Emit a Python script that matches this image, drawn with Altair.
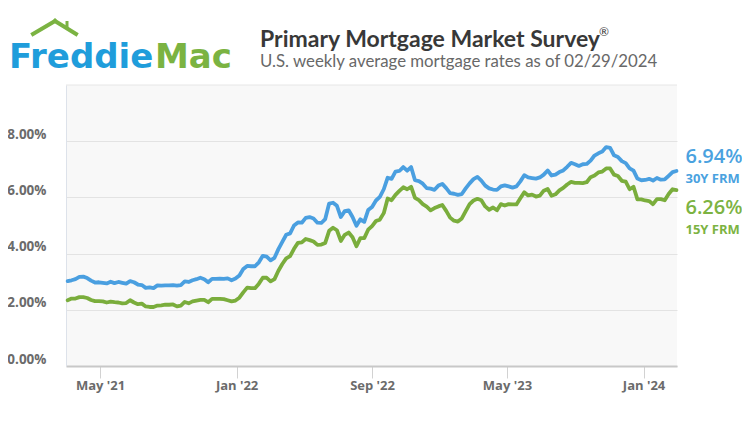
import altair as alt
import pandas as pd

# ---- data (Freddie Mac PMMS weekly averages, %) ----
week_start = "2021-03-04"
week_end = "2024-02-29"

rate30_2021 = [3.02, 3.05, 3.09, 3.17, 3.18, 3.13, 3.04, 2.97, 2.98, 2.96, 2.94, 3.00, 2.95,
               2.99, 2.96, 2.93, 3.02, 2.98, 2.90, 2.88, 2.78, 2.80, 2.77, 2.87, 2.86, 2.87,
               2.87, 2.88, 2.86, 2.88, 3.01, 2.99, 3.05, 3.09, 3.14, 3.09, 2.98, 3.10, 3.10,
               3.11, 3.10, 3.12, 3.05, 3.11]
rate30_2022 = [3.22, 3.45, 3.56, 3.55, 3.55, 3.69, 3.92, 3.89, 3.76, 3.85, 4.16, 4.42, 4.67,
               4.72, 5.00, 5.11, 5.10, 5.27, 5.30, 5.25, 5.10, 5.09, 5.23, 5.78, 5.81, 5.70,
               5.30, 5.51, 5.54, 5.30, 4.99, 5.22, 5.13, 5.55, 5.66, 5.89, 6.02, 6.29, 6.70,
               6.66, 6.92, 6.94, 7.08, 6.95, 7.08, 6.61, 6.58, 6.49, 6.33, 6.31, 6.27, 6.42]
rate30_2023 = [6.48, 6.33, 6.15, 6.13, 6.09, 6.12, 6.32, 6.50, 6.65, 6.73, 6.60, 6.42, 6.32,
               6.28, 6.27, 6.39, 6.43, 6.39, 6.35, 6.39, 6.57, 6.79, 6.71, 6.69, 6.67, 6.71,
               6.81, 6.96, 6.78, 6.81, 6.90, 6.96, 7.09, 7.23, 7.18, 7.12, 7.18, 7.19, 7.31,
               7.49, 7.57, 7.63, 7.79, 7.76, 7.50, 7.44, 7.29, 7.22, 7.03, 6.95, 6.67, 6.61]
rate30_2024 = [6.62, 6.66, 6.60, 6.69, 6.63, 6.64, 6.77, 6.90, 6.94]

rate15_2021 = [2.34, 2.40, 2.40, 2.45, 2.45, 2.42, 2.35, 2.31, 2.31, 2.30, 2.26, 2.29, 2.27,
               2.26, 2.23, 2.24, 2.34, 2.26, 2.20, 2.22, 2.12, 2.10, 2.10, 2.15, 2.16, 2.18,
               2.18, 2.19, 2.12, 2.15, 2.28, 2.23, 2.30, 2.33, 2.35, 2.35, 2.27, 2.39, 2.39,
               2.39, 2.38, 2.34, 2.30, 2.33]
rate15_2022 = [2.43, 2.62, 2.79, 2.77, 2.77, 2.93, 3.14, 3.14, 3.01, 3.09, 3.39, 3.63, 3.83,
               3.91, 4.17, 4.38, 4.40, 4.52, 4.48, 4.43, 4.31, 4.32, 4.38, 4.81, 4.92, 4.83,
               4.45, 4.67, 4.75, 4.58, 4.26, 4.55, 4.55, 4.85, 4.98, 5.16, 5.21, 5.44, 5.96,
               5.90, 6.09, 6.23, 6.36, 6.29, 6.38, 5.98, 5.90, 5.76, 5.67, 5.54, 5.62, 5.68]
rate15_2023 = [5.73, 5.52, 5.28, 5.17, 5.14, 5.25, 5.51, 5.76, 5.89, 5.95, 5.90, 5.68, 5.56,
               5.64, 5.54, 5.76, 5.71, 5.76, 5.75, 5.75, 5.97, 6.18, 6.07, 6.10, 6.03, 6.06,
               6.24, 6.30, 6.06, 6.11, 6.25, 6.34, 6.46, 6.55, 6.52, 6.52, 6.51, 6.54, 6.72,
               6.78, 6.89, 6.92, 7.03, 7.03, 6.81, 6.76, 6.59, 6.56, 6.29, 6.38, 5.93, 5.93]
rate15_2024 = [5.89, 5.87, 5.76, 5.94, 5.94, 5.90, 6.12, 6.29, 6.26]

series_names = ["30Y FRM", "15Y FRM"]
series_colors = ["#4a9fe0", "#7aad3c"]
text_colors = ["#4aa2df", "#7cb342"]
y_ticks = [0, 2, 4, 6, 8]
x_ticks = [(2021, 5), (2022, 1), (2022, 9), (2023, 5), (2024, 1)]

title_text = "Primary Mortgage Market Survey"
subtitle_text = "U.S. weekly average mortgage rates as of 02/29/2024"

# ---- build table ----
dates = pd.date_range(week_start, week_end, freq="7D")
r30 = rate30_2021 + rate30_2022 + rate30_2023 + rate30_2024
r15 = rate15_2021 + rate15_2022 + rate15_2023 + rate15_2024
df = pd.concat([
    pd.DataFrame({"date": dates, "rate": r30, "series": series_names[0]}),
    pd.DataFrame({"date": dates, "rate": r15, "series": series_names[1]}),
])
last = df.groupby("series", as_index=False).last()

W, H = 611, 281
x_scale = alt.Scale(domain=[alt.DateTime(year=2021, month=3, date=1),
                            alt.DateTime(year=2024, month=3, date=1)])
y_scale = alt.Scale(domain=[0, 10], nice=False)
AXIS_FONT = "Open Sans"
LABEL_GRAY = "#6b6b6b"

lines = alt.Chart(df).mark_line(strokeWidth=3.8, strokeJoin="round", strokeCap="round").encode(
    x=alt.X("date:T", scale=x_scale, title=None,
            axis=alt.Axis(values=[alt.DateTime(year=y, month=m, date=1) for y, m in x_ticks],
                          format="%b '%y", grid=False, tickSize=12, tickColor="#d2d2d2",
                          domainColor="#c8c8c8", domainWidth=2, labelFont=AXIS_FONT,
                          labelFontWeight="bold", labelFontSize=13, labelColor=LABEL_GRAY,
                          labelPadding=1, labelFlush=False)),
    y=alt.Y("rate:Q", scale=y_scale, title=None,
            axis=alt.Axis(values=y_ticks, labelExpr="format(datum.value, '.2f') + '%'",
                          grid=True, gridColor="#e3e3e3", ticks=False, domainColor="#dde2ea",
                          labelFont=AXIS_FONT, labelFontWeight="bold", labelFontSize=13.5,
                          labelColor=LABEL_GRAY, labelPadding=20, labelBaseline="alphabetic",
                          labelOffset=-3)),
    color=alt.Color("series:N", scale=alt.Scale(domain=series_names, range=series_colors),
                    legend=None),
)

def end_label(idx, big_dy, small_dy):
    base = alt.Chart(last).transform_filter(alt.datum.series == series_names[idx]).transform_calculate(
        label="format(datum.rate, '.2f') + '%'")
    big = base.mark_text(align="left", baseline="middle", dx=9, dy=big_dy, font=AXIS_FONT,
                         fontSize=20, fontWeight=600, color=text_colors[idx]).encode(
        x="date:T", y="rate:Q", text="label:N")
    small = base.mark_text(align="left", baseline="middle", dx=9, dy=small_dy, font=AXIS_FONT,
                           fontSize=13, fontWeight="bold", color=text_colors[idx]).encode(
        x="date:T", y="rate:Q", text="series:N")
    return big + small

one = pd.DataFrame({"k": [0]})

top_border = alt.Chart(one).mark_rule(color="#e6e6e6", strokeWidth=1).encode(
    x=alt.value(0), x2=alt.value(W), y=alt.value(0))

title = alt.Chart(one).mark_text(align="left", baseline="alphabetic", font="Lato", fontSize=23,
                                 fontWeight="bold", color="#383838").encode(
    x=alt.value(194), y=alt.value(-38), text=alt.value(title_text))
reg = alt.Chart(one).mark_text(align="left", baseline="alphabetic", font="Lato", fontSize=12,
                               color="#383838").encode(
    x=alt.value(533), y=alt.value(-49), text=alt.value("®"))
subtitle = alt.Chart(one).mark_text(align="left", baseline="alphabetic", font="Lato", fontSize=16.8,
                                    color="#686868").encode(
    x=alt.value(194), y=alt.value(-18), text=alt.value(subtitle_text))

logo_blue = alt.Chart(one).mark_text(align="left", baseline="alphabetic", font="DejaVu Sans",
                                     fontSize=34, fontWeight="bold", color="#1f9ddb").encode(
    x=alt.value(-57), y=alt.value(-17), text=alt.value("Freddie"))
logo_green = alt.Chart(one).mark_text(align="left", baseline="alphabetic", font="DejaVu Sans",
                                      fontSize=34, fontWeight="bold", color="#7bb342").encode(
    x=alt.value(89), y=alt.value(-17), text=alt.value("Mac"))
roof_l = alt.Chart(one).mark_rule(color="#7bb342", strokeWidth=4, strokeCap="square").encode(
    x=alt.value(-33), y=alt.value(-51), x2=alt.value(-11), y2=alt.value(-64))
roof_r = alt.Chart(one).mark_rule(color="#7bb342", strokeWidth=4, strokeCap="square").encode(
    x=alt.value(-11), y=alt.value(-64), x2=alt.value(10), y2=alt.value(-51))
chimney = alt.Chart(one).mark_rule(color="#7bb342", strokeWidth=3).encode(
    x=alt.value(1), y=alt.value(-64), y2=alt.value(-56))

chart = alt.layer(
    top_border, lines, end_label(0, -14, 8), end_label(1, 18, 40),
    title, reg, subtitle, logo_blue, logo_green, roof_l, roof_r, chimney,
).properties(
    width=W, height=H,
    autosize=alt.AutoSizeParams(type="none"),
    padding={"left": 58, "top": 77, "right": 65, "bottom": 48},
    background="white",
).configure_view(fill="#f8f8f8", stroke=None)

chart.save("out.html", embed_options={"renderer": "svg", "actions": False})
